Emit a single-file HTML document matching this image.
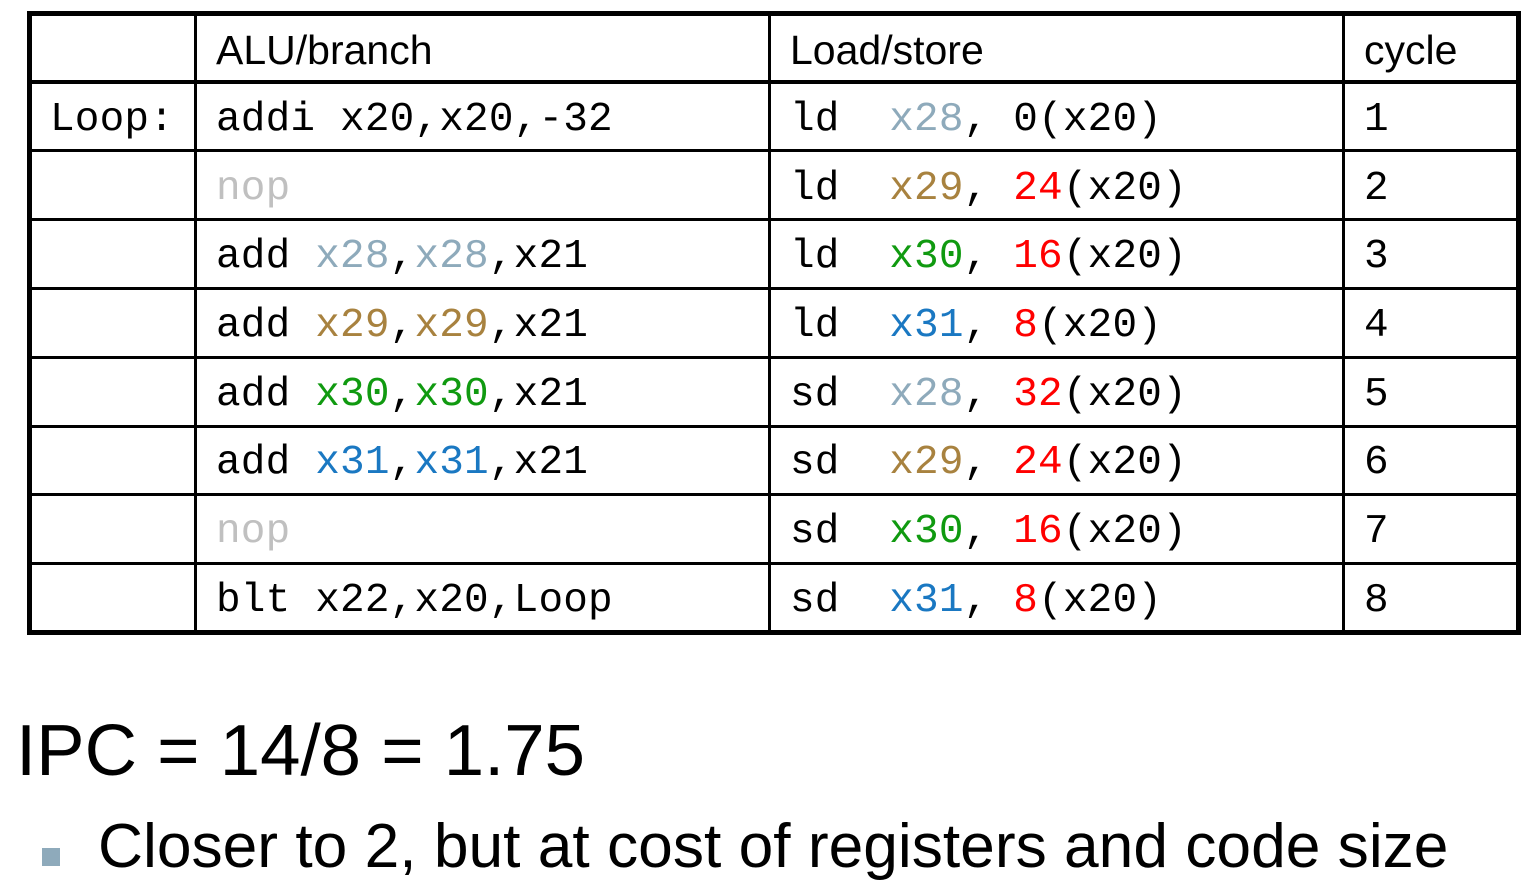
<!DOCTYPE html>
<html><head><meta charset="utf-8"><style>
body{margin:0;width:1531px;height:896px;background:#fff;position:relative;overflow:hidden;font-family:"Liberation Sans",sans-serif}
.ln{position:absolute;background:#000}
.c{position:absolute;white-space:pre;font-family:"Liberation Mono",monospace;font-size:41px;line-height:69px;height:69px;color:#000;margin-top:3px;letter-spacing:0.2px}
.h{font-family:"Liberation Sans",sans-serif;font-size:41px;margin-top:1px;letter-spacing:0}
.g{color:#8eaabb}.b{color:#a8823f}.gr{color:#109a10}.bl{color:#1a78c2}.r{color:#ff0000}.n{color:#c0c0c0}
</style></head><body>
<div>
<div class="ln" style="left:27px;top:11px;width:1494px;height:5px"></div>
<div class="ln" style="left:27px;top:630px;width:1494px;height:5px"></div>
<div class="ln" style="left:27px;top:11px;width:5px;height:624px"></div>
<div class="ln" style="left:1516px;top:11px;width:5px;height:624px"></div>
<div class="ln" style="left:194px;top:11px;width:3px;height:624px"></div>
<div class="ln" style="left:768px;top:11px;width:3px;height:624px"></div>
<div class="ln" style="left:1342px;top:11px;width:3px;height:624px"></div>
<div class="ln" style="left:27px;top:80px;width:1494px;height:4px"></div>
<div class="ln" style="left:27px;top:149px;width:1494px;height:3px"></div>
<div class="ln" style="left:27px;top:218px;width:1494px;height:3px"></div>
<div class="ln" style="left:27px;top:287px;width:1494px;height:3px"></div>
<div class="ln" style="left:27px;top:356px;width:1494px;height:3px"></div>
<div class="ln" style="left:27px;top:425px;width:1494px;height:3px"></div>
<div class="ln" style="left:27px;top:493px;width:1494px;height:3px"></div>
<div class="ln" style="left:27px;top:562px;width:1494px;height:3px"></div>

<div class="c h" style="left:216px;top:15px">ALU/branch</div>
<div class="c h" style="left:790px;top:15px">Load/store</div>
<div class="c h" style="left:1364px;top:15px">cycle</div>

<div class="c" style="left:50px;top:83px">Loop:</div>
<div class="c" style="left:216px;top:83px">addi x20,x20,-32</div>
<div class="c" style="left:790px;top:83px">ld  <span class="g">x28</span>, 0(x20)</div>
<div class="c" style="left:1364px;top:83px">1</div>

<div class="c n" style="left:216px;top:152px">nop</div>
<div class="c" style="left:790px;top:152px">ld  <span class="b">x29</span>, <span class="r">24</span>(x20)</div>
<div class="c" style="left:1364px;top:152px">2</div>

<div class="c" style="left:216px;top:220px">add <span class="g">x28</span>,<span class="g">x28</span>,x21</div>
<div class="c" style="left:790px;top:220px">ld  <span class="gr">x30</span>, <span class="r">16</span>(x20)</div>
<div class="c" style="left:1364px;top:220px">3</div>

<div class="c" style="left:216px;top:289px">add <span class="b">x29</span>,<span class="b">x29</span>,x21</div>
<div class="c" style="left:790px;top:289px">ld  <span class="bl">x31</span>, <span class="r">8</span>(x20)</div>
<div class="c" style="left:1364px;top:289px">4</div>

<div class="c" style="left:216px;top:358px">add <span class="gr">x30</span>,<span class="gr">x30</span>,x21</div>
<div class="c" style="left:790px;top:358px">sd  <span class="g">x28</span>, <span class="r">32</span>(x20)</div>
<div class="c" style="left:1364px;top:358px">5</div>

<div class="c" style="left:216px;top:426px">add <span class="bl">x31</span>,<span class="bl">x31</span>,x21</div>
<div class="c" style="left:790px;top:426px">sd  <span class="b">x29</span>, <span class="r">24</span>(x20)</div>
<div class="c" style="left:1364px;top:426px">6</div>

<div class="c n" style="left:216px;top:495px">nop</div>
<div class="c" style="left:790px;top:495px">sd  <span class="gr">x30</span>, <span class="r">16</span>(x20)</div>
<div class="c" style="left:1364px;top:495px">7</div>

<div class="c" style="left:216px;top:564px">blt x22,x20,Loop</div>
<div class="c" style="left:790px;top:564px">sd  <span class="bl">x31</span>, <span class="r">8</span>(x20)</div>
<div class="c" style="left:1364px;top:564px">8</div>
</div>

<div style="position:absolute;left:16px;top:706px;font-size:72.6px;line-height:90px;white-space:pre">IPC = 14/8 = 1.75</div>
<div style="position:absolute;left:42px;top:848px;width:18px;height:18px;background:#8eaabb"></div>
<div style="position:absolute;left:98px;top:809px;font-size:62.3px;line-height:76px;white-space:pre">Closer to 2, but at cost of registers and code size</div>
</body></html>
